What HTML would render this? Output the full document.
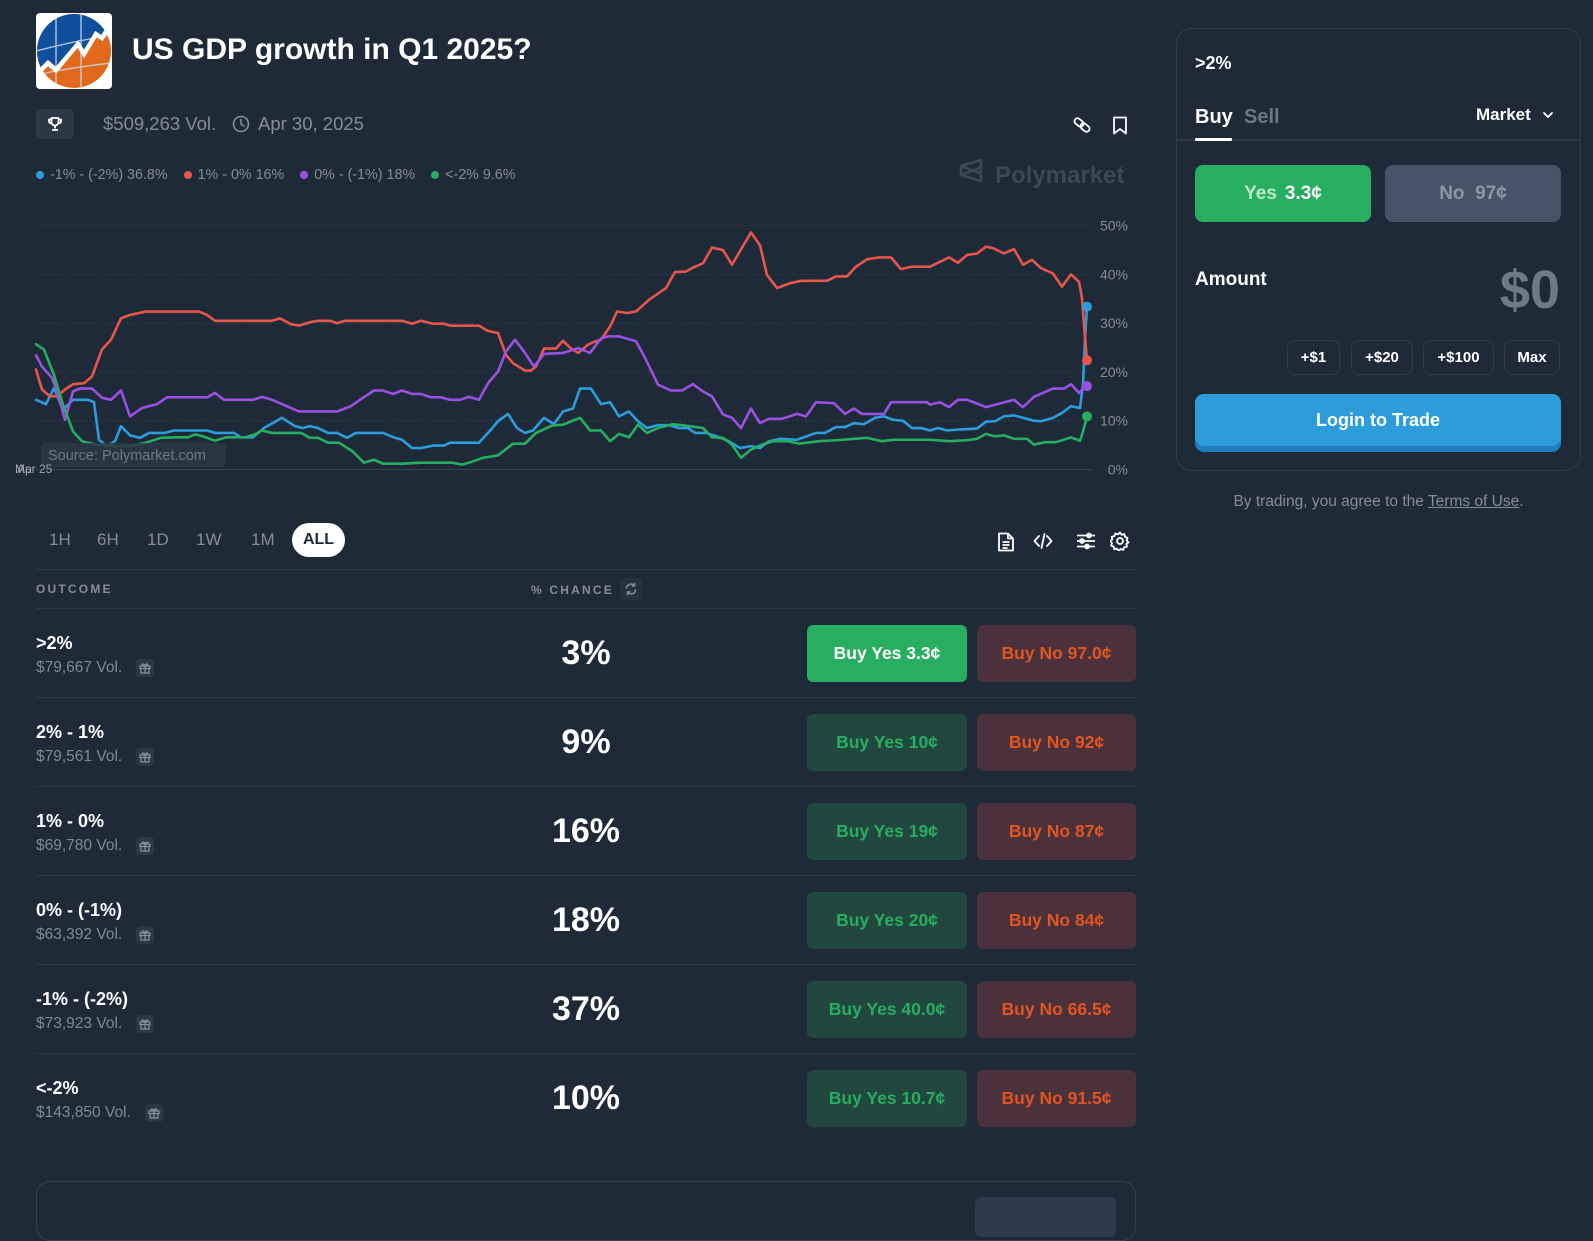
<!DOCTYPE html>
<html><head><meta charset="utf-8">
<style>
*{margin:0;padding:0;box-sizing:border-box}
html,body{width:1593px;height:1208px;overflow:hidden;background:#1e2a38;font-family:"Liberation Sans",Arial,sans-serif;color:#fff}
.a{position:absolute;white-space:nowrap}
.c{display:flex;align-items:center;justify-content:center}
.tb{font-size:17px;color:#858d99;height:24px;line-height:24px;top:528px}
.rt{font-weight:700;font-size:18px;line-height:22px;left:36px}
.rv{font-size:15.5px;color:#808a95;line-height:20px;left:36px;display:flex;align-items:center}
.gift{display:inline-flex;width:18px;height:18px;border-radius:4px;background:#2b3846;margin-left:14px;align-items:center;justify-content:center}
.pct{font-weight:700;font-size:34px;line-height:40px;left:486px;width:200px;text-align:center}
.by{left:807px;width:160px;height:57px;border-radius:6px;background:#21473f;color:#27ae60;font-weight:700;font-size:17.5px}
.bn{left:977px;width:159px;height:57px;border-radius:6px;background:#4a313c;color:#e2551e;font-weight:700;font-size:17.5px}
.hl{left:36px;width:1100px;height:1px;background:#2c3947}
.qb{top:340px;height:35px;border:1px solid #2f3c4b;border-radius:8px;font-weight:700;font-size:15px}
</style></head><body>

<!-- Logo -->
<svg class="a" style="left:36px;top:13px" width="76" height="76" viewBox="0 0 76 76">
<defs><clipPath id="lc"><circle cx="38" cy="38" r="37"/></clipPath><clipPath id="lr"><rect width="76" height="76" rx="4"/></clipPath></defs>
<rect width="76" height="76" rx="4" fill="#fff"/>
<g clip-path="url(#lr)"><g clip-path="url(#lc)">
<rect width="76" height="76" fill="#e2691c"/>
<polygon points="0,0 76,0 76,8 66,24 60,20 48,40 42,30 20,56 12,50 0,60" fill="#0f4f9c"/>
<g stroke="#c9d9ee" stroke-width="1.4" fill="none" opacity="0.85">
<line x1="20" y1="0" x2="20" y2="76"/><line x1="45" y1="0" x2="45" y2="76"/>
<path d="M0,38 Q38,28 76,22"/><path d="M0,62 Q38,54 76,50"/>
</g>
<polyline points="0,62 12,50 20,57 42,31 48,41 60,21 66,25 78,6" stroke="#fff" stroke-width="4.5" fill="none" stroke-linejoin="miter"/>
</g></g>
</svg>
<div class="a" style="left:132px;top:32px;font-size:30px;font-weight:700;line-height:36px">US GDP growth in Q1 2025?</div>

<!-- meta row -->
<div class="a c" style="left:36px;top:109px;width:38px;height:30px;border-radius:5px;background:#2b3846">
<svg width="16" height="16" viewBox="0 0 16 16" fill="none" stroke="#fff" stroke-width="1.8" stroke-linejoin="round"><path d="M4.5 2h7v4a3.5 3.5 0 0 1-7 0z"/><path d="M4.5 3.5H2v1.5a2.5 2.5 0 0 0 2.7 2.5M11.5 3.5H14v1.5a2.5 2.5 0 0 1-2.7 2.5"/><path d="M8 9.5v3M5 14h6"/></svg>
</div>
<div class="a" style="left:103px;top:113px;font-size:18.5px;line-height:22px;color:#858d99">$509,263 Vol.</div>
<svg class="a" style="left:232px;top:115px" width="18" height="18" viewBox="0 0 18 18" fill="none" stroke="#858d99" stroke-width="1.6"><circle cx="9" cy="9" r="7.5"/><path d="M9 4.5V9l3 2" stroke-linecap="round"/></svg>
<div class="a" style="left:258px;top:113px;font-size:18.5px;line-height:22px;color:#858d99">Apr 30, 2025</div>
<svg class="a" style="left:1072px;top:115px" width="20" height="20" viewBox="0 0 20 20" fill="none" stroke="#fff" stroke-width="1.8"><rect x="2" y="4.5" width="10" height="6" rx="3" transform="rotate(40 7 7.5)"/><rect x="8" y="9.5" width="10" height="6" rx="3" transform="rotate(40 13 12.5)"/></svg>
<svg class="a" style="left:1112px;top:116px" width="16" height="19" viewBox="0 0 16 19" fill="none" stroke="#fff" stroke-width="1.8" stroke-linejoin="round"><path d="M2 1.5h12v16l-6-4.5-6 4.5z"/></svg>

<!-- legend -->
<div class="a" style="left:36px;top:166px;font-size:14.3px;line-height:18px;color:#858d99;display:flex;align-items:center">
<span style="width:8px;height:8px;border-radius:50%;background:#2d9cdb;margin-right:6px"></span>-1% - (-2%) 36.8%
<span style="width:8px;height:8px;border-radius:50%;background:#e8564b;margin:0 6px 0 16px"></span>1% - 0% 16%
<span style="width:8px;height:8px;border-radius:50%;background:#9b51e0;margin:0 6px 0 16px"></span>0% - (-1%) 18%
<span style="width:8px;height:8px;border-radius:50%;background:#27ae60;margin:0 6px 0 16px"></span>&lt;-2% 9.6%
</div>

<!-- watermark -->
<svg class="a" style="left:959px;top:158px" width="24" height="25" viewBox="0 0 24 25" fill="none" stroke="#3c4856" stroke-width="2.6" stroke-linejoin="round"><path d="M22 2L2 8v9l20 6z M2 8l20 7.5 M2 17l20-7.5"/></svg>
<div class="a" style="left:995px;top:161px;font-size:24px;font-weight:700;line-height:30px;color:#3c4856">Polymarket</div>

<!-- chart -->
<svg class="a" style="left:0;top:0" width="1150" height="500" viewBox="0 0 1150 500">
<g stroke="#3a4552" stroke-width="1" stroke-dasharray="1.5 3">
<line x1="36" x2="1092" y1="225.6" y2="225.6"/>
<line x1="36" x2="1092" y1="274.4" y2="274.4"/>
<line x1="36" x2="1092" y1="323.2" y2="323.2"/>
<line x1="36" x2="1092" y1="371.9" y2="371.9"/>
<line x1="36" x2="1092" y1="420.7" y2="420.7"/>
</g>
<line x1="36" x2="1092" y1="469.5" y2="469.5" stroke="#3a4552" stroke-width="1"/>
<g font-family="Liberation Sans, Arial, sans-serif" font-size="14" fill="#858d99" text-anchor="end">
<text x="1128" y="230.6">50%</text>
<text x="1128" y="279.4">40%</text>
<text x="1128" y="328.2">30%</text>
<text x="1128" y="376.9">20%</text>
<text x="1128" y="425.7">10%</text>
<text x="1128" y="474.5">0%</text>
</g>
<g transform="translate(0,469.5) scale(1,-4.876)" fill="none" stroke-width="2.6" stroke-linejoin="round" stroke-linecap="round">
<polyline vector-effect="non-scaling-stroke" stroke="#2d9cdb" points="36,14.3 46,13.4 54,16.7 63,12.3 73,14.3 88,14.3 94,13.8 99,6.1 107,4.8 115,5.8 121,8.9 130,7 140,6.5 149,7.5 165,7.5 174,8 207,8 215,7.5 234,7.5 241,6.6 253,6.6 264,8.5 282,10.6 295,8.9 303,8.5 310,8.9 318,8.5 328,7.5 337,7.5 347,6.5 356,7.5 383,7.5 395,6.5 402,6.1 412,4.4 421,4.4 433,4.9 444,4.9 450,5.5 479,5.5 488,7.5 498,9.9 508,11.4 517,8.5 525,7.5 533,8 544,10.6 554,9.3 563,11.9 573,12.5 580,16.6 591,16.6 601,13.4 610,13.8 619,10.9 629,11.9 638,9.9 647,8.5 658,9.1 669,9.1 679,8.5 688,8.5 695,7.5 706,7.5 717,6.8 729,5.8 740,4.4 751,4.8 760,4.4 769,5.8 780,6.3 797,6.1 816,7.5 825,7.5 836,8.7 845,8.7 854,9.5 864,9.3 875,10.6 884,10.9 893,10.2 903,10 912,8.5 921,8.5 930,8 938,8.5 947,8 958,8.2 977,8.4 986,9.8 995,9.9 1004,10.9 1014,11.1 1023,10.6 1034,10 1041,9.9 1053,10.6 1062,11.6 1071,13 1080,12.6 1083,17.4 1085,26.9 1087,33.4"/>
<polyline vector-effect="non-scaling-stroke" stroke="#e8564b" points="36,20.5 42,16.4 50,15 57,15 65,16.4 73,17.5 84,17.7 92,19.1 102,24.6 111,26.6 121,31 130,31.7 146,32.4 199,32.4 207,31.7 215,30.5 272,30.5 280,31 291,29.8 299,29.5 310,30.2 318,30.5 330,30.5 337,30 345,30.5 402,30.5 412,29.9 421,30.5 433,29.9 444,29.9 450,29.5 479,29.5 488,28.4 498,28 506,23.5 513,21.8 525,20.3 531,20.3 536,21.1 544,24.8 556,24.8 563,26.4 570,25 578,23.9 588,25.6 593,26.1 601,26.6 610,29.3 617,32.4 627,32.1 636,32.4 649,34.8 666,37.2 675,40.5 686,40.6 693,41.4 703,42.3 712,45.5 723,45 732,42 751,48.6 760,46 767,39.9 777,37.2 790,38.2 801,38.7 827,38.7 836,39.6 847,39.6 856,41.6 867,43.1 879,43.5 891,43.5 901,41.1 912,41.6 930,41.6 949,43.5 958,42.4 967,44 977,44.3 986,45.7 993,45.4 1004,44.3 1014,45.2 1023,42 1032,43 1041,41.3 1053,40.2 1062,37.5 1071,40 1079,38.5 1082,35.1 1084,29.7 1087,22.4"/>
<polyline vector-effect="non-scaling-stroke" stroke="#9b51e0" points="36,23.4 42,21.1 52,18.8 57,16 65,10.2 73,16 80,16.6 92,16.6 102,14.7 111,14.3 121,16.2 130,10.9 142,12.6 157,13.4 167,14.8 207,14.8 215,15.7 224,14.3 253,14.3 262,14.9 272,14.3 299,11.9 337,11.9 351,13 360,14.3 374,16.2 383,16.2 393,15.5 402,16.2 412,15.5 421,15.5 431,14.8 441,14.8 450,14.3 460,14.3 469,14.9 479,14.3 488,17.7 498,20.1 506,24.2 515,26.6 525,23.9 534,21.1 544,23.7 563,23.9 578,24.9 590,23.9 601,26.9 608,27.3 619,27.3 636,26.3 645,22.9 658,17.4 671,16.2 682,16.2 693,17.5 703,16 712,15 723,11.3 732,10.6 741,8.5 751,12.5 760,9.5 769,10.4 782,10.4 797,11.4 806,10.9 816,13.8 834,13.6 845,11.4 854,12.5 862,11.4 884,11.4 891,13.8 927,13.8 930,13.3 940,13.8 949,12.8 958,14.3 967,14.3 986,12.8 1014,14.3 1023,12.8 1034,14.9 1053,16.6 1064,16.6 1071,17.5 1079,15.7 1082,16.4 1087,17.1"/>
<polyline vector-effect="non-scaling-stroke" stroke="#27ae60" points="36,25.7 44,24.6 54,19.4 63,13.3 73,7.8 82,5.8 96,5.1 115,4.8 130,4.8 146,5.5 161,6.5 176,6.6 188,6.6 195,7.2 203,6.8 215,5.9 226,6.6 245,6.6 255,7.2 262,8 272,7.5 301,7.5 310,6.5 318,6.5 328,5.5 339,5.5 352,3.8 364,1.4 374,2 383,1.2 402,1.2 421,1.4 452,1.4 462,1 469,1.4 483,2.4 498,2.9 513,5.3 525,5.3 536,7.5 552,9 563,9.2 580,10.6 590,8 601,8 610,5.8 619,7.3 629,6.6 638,9.2 647,7.5 658,8.5 673,9.3 682,9.1 703,8.5 712,6.6 723,6.5 732,5.1 741,2.4 751,4.1 762,5.1 773,5.8 788,5.8 799,5.3 819,5.8 836,6 867,6.5 882,5.8 893,6.1 930,6.1 949,5.8 967,6 977,6.3 986,7.3 995,6.8 1004,7 1014,6.3 1027,6.3 1034,5.1 1045,5.6 1056,5.6 1071,6.6 1080,5.9 1083,7.8 1087,10.9"/>
</g>
<circle cx="1087" cy="306.6" r="5" fill="#2d9cdb"/>
<circle cx="1087" cy="360.3" r="5" fill="#e8564b"/>
<circle cx="1087" cy="386.1" r="5" fill="#9b51e0"/>
<circle cx="1087" cy="416.4" r="5" fill="#27ae60"/>
<rect x="41" y="443" width="185" height="24" rx="4" fill="#2a3745" fill-opacity="0.85"/>
<text x="48" y="460" font-family="Liberation Sans, Arial, sans-serif" font-size="14.5" fill="#6c7886">Source: Polymarket.com</text>
<text x="15" y="473" font-family="Liberation Sans, Arial, sans-serif" font-size="12" fill="#9aa3ad">Mar</text>
<text x="17" y="473" font-family="Liberation Sans, Arial, sans-serif" font-size="12" fill="#9aa3ad">Apr 25</text>
</svg>

<!-- time buttons -->
<div class="a tb" style="left:49px">1H</div>
<div class="a tb" style="left:97px">6H</div>
<div class="a tb" style="left:147px">1D</div>
<div class="a tb" style="left:196px">1W</div>
<div class="a tb" style="left:251px">1M</div>
<div class="a c" style="left:292px;top:523px;width:53px;height:34px;border-radius:17px;background:#fff;color:#1e2a38;font-size:16px;font-weight:700">ALL</div>

<!-- toolbar icons -->
<svg class="a" style="left:997px;top:532px" width="18" height="20" viewBox="0 0 18 20" fill="none" stroke="#fff" stroke-width="1.8" stroke-linejoin="round"><path d="M2 1.5h9l5 5v12H2z"/><path d="M11 1.5v5h5M5.5 10h7M5.5 13h7M5.5 16h5"/></svg>
<svg class="a" style="left:1033px;top:532px" width="20" height="18" viewBox="0 0 20 18" fill="none" stroke="#fff" stroke-width="1.8" stroke-linecap="round" stroke-linejoin="round"><path d="M6 4L1.5 9 6 14M14 4l4.5 5-4.5 5M11.5 2l-3 14"/></svg>
<svg class="a" style="left:1076px;top:532px" width="20" height="18" viewBox="0 0 20 18" fill="none" stroke="#fff" stroke-width="1.8"><path d="M1 3.5h18M1 9h18M1 14.5h18"/><g fill="#fff"><circle cx="13" cy="3.5" r="2"/><circle cx="6" cy="9" r="2"/><circle cx="11" cy="14.5" r="2"/></g></svg>
<svg class="a" style="left:1110px;top:531px" width="20" height="20" viewBox="0 0 20 20" fill="none" stroke="#fff" stroke-width="1.8"><circle cx="10" cy="10" r="3"/><path d="M10 1.5l1.6 2.2 2.7-.6.6 2.7 2.6 1-.9 2.6 1.9 2-2.2 1.6.6 2.7-2.7.6-1 2.6-2.6-.9-2 1.9-1.6-2.2-2.7.6-.6-2.7-2.6-1 .9-2.6-1.9-2 2.2-1.6-.6-2.7 2.7-.6 1-2.6 2.6.9z" stroke-linejoin="round"/></svg>

<!-- table header -->
<div class="a hl" style="top:569px"></div>
<div class="a" style="left:36px;top:581px;font-size:12px;line-height:16px;letter-spacing:2.2px;color:#858d99;font-weight:700">OUTCOME</div>
<div class="a" style="left:531px;top:582px;font-size:12px;line-height:16px;letter-spacing:2.2px;color:#858d99;font-weight:700">% CHANCE</div>
<div class="a c" style="left:620px;top:578px;width:22px;height:22px;border-radius:5px;background:#25323f">
<svg width="14" height="14" viewBox="0 0 14 14" fill="none" stroke="#858d99" stroke-width="1.5" stroke-linecap="round"><path d="M2.5 6a4.5 4.5 0 0 1 8-2.2M11.5 8a4.5 4.5 0 0 1-8 2.2M10.5 1.5v2.5H8M3.5 12.5V10H6"/></svg>
</div>
<div class="a hl" style="top:608px"></div>

<!-- rows -->
<div class="a rt" style="top:632px">&gt;2%</div>
<div class="a rv" style="top:658px">$79,667 Vol.<span class="gift"><svg width="12" height="12" viewBox="0 0 12 12" fill="none" stroke="#8a939e" stroke-width="1.2"><rect x="1" y="4" width="10" height="2.5"/><path d="M2 6.5v4.5h8V6.5M6 4v7M6 4C5 1.5 3 1.5 3 3s3 1 3 1 3 .5 3-1-2-1.5-3 1"/></svg></span></div>
<div class="a pct" style="top:633px">3%</div>
<div class="a c by" style="top:625px;background:#27ae60;color:#fff">Buy Yes 3.3¢</div>
<div class="a c bn" style="top:625px">Buy No 97.0¢</div>
<div class="a hl" style="top:697px"></div>

<div class="a rt" style="top:721px">2% - 1%</div>
<div class="a rv" style="top:747px">$79,561 Vol.<span class="gift"><svg width="12" height="12" viewBox="0 0 12 12" fill="none" stroke="#8a939e" stroke-width="1.2"><rect x="1" y="4" width="10" height="2.5"/><path d="M2 6.5v4.5h8V6.5M6 4v7M6 4C5 1.5 3 1.5 3 3s3 1 3 1 3 .5 3-1-2-1.5-3 1"/></svg></span></div>
<div class="a pct" style="top:722px">9%</div>
<div class="a c by" style="top:714px">Buy Yes 10¢</div>
<div class="a c bn" style="top:714px">Buy No 92¢</div>
<div class="a hl" style="top:786px"></div>

<div class="a rt" style="top:810px">1% - 0%</div>
<div class="a rv" style="top:836px">$69,780 Vol.<span class="gift"><svg width="12" height="12" viewBox="0 0 12 12" fill="none" stroke="#8a939e" stroke-width="1.2"><rect x="1" y="4" width="10" height="2.5"/><path d="M2 6.5v4.5h8V6.5M6 4v7M6 4C5 1.5 3 1.5 3 3s3 1 3 1 3 .5 3-1-2-1.5-3 1"/></svg></span></div>
<div class="a pct" style="top:811px">16%</div>
<div class="a c by" style="top:803px">Buy Yes 19¢</div>
<div class="a c bn" style="top:803px">Buy No 87¢</div>
<div class="a hl" style="top:875px"></div>

<div class="a rt" style="top:899px">0% - (-1%)</div>
<div class="a rv" style="top:925px">$63,392 Vol.<span class="gift"><svg width="12" height="12" viewBox="0 0 12 12" fill="none" stroke="#8a939e" stroke-width="1.2"><rect x="1" y="4" width="10" height="2.5"/><path d="M2 6.5v4.5h8V6.5M6 4v7M6 4C5 1.5 3 1.5 3 3s3 1 3 1 3 .5 3-1-2-1.5-3 1"/></svg></span></div>
<div class="a pct" style="top:900px">18%</div>
<div class="a c by" style="top:892px">Buy Yes 20¢</div>
<div class="a c bn" style="top:892px">Buy No 84¢</div>
<div class="a hl" style="top:964px"></div>

<div class="a rt" style="top:988px">-1% - (-2%)</div>
<div class="a rv" style="top:1014px">$73,923 Vol.<span class="gift"><svg width="12" height="12" viewBox="0 0 12 12" fill="none" stroke="#8a939e" stroke-width="1.2"><rect x="1" y="4" width="10" height="2.5"/><path d="M2 6.5v4.5h8V6.5M6 4v7M6 4C5 1.5 3 1.5 3 3s3 1 3 1 3 .5 3-1-2-1.5-3 1"/></svg></span></div>
<div class="a pct" style="top:989px">37%</div>
<div class="a c by" style="top:981px">Buy Yes 40.0¢</div>
<div class="a c bn" style="top:981px">Buy No 66.5¢</div>
<div class="a hl" style="top:1053px"></div>

<div class="a rt" style="top:1077px">&lt;-2%</div>
<div class="a rv" style="top:1103px">$143,850 Vol.<span class="gift"><svg width="12" height="12" viewBox="0 0 12 12" fill="none" stroke="#8a939e" stroke-width="1.2"><rect x="1" y="4" width="10" height="2.5"/><path d="M2 6.5v4.5h8V6.5M6 4v7M6 4C5 1.5 3 1.5 3 3s3 1 3 1 3 .5 3-1-2-1.5-3 1"/></svg></span></div>
<div class="a pct" style="top:1078px">10%</div>
<div class="a c by" style="top:1070px">Buy Yes 10.7¢</div>
<div class="a c bn" style="top:1070px">Buy No 91.5¢</div>

<!-- bottom card -->
<div class="a" style="left:36px;top:1181px;width:1100px;height:60px;border:1px solid #34414f;border-radius:14px"></div>
<div class="a" style="left:975px;top:1197px;width:141px;height:40px;border-radius:6px;background:#2c3a49"></div>

<!-- right panel -->
<div class="a" style="left:1176px;top:28px;width:405px;height:443px;border:1px solid #2f3c4b;border-radius:16px"></div>
<div class="a" style="left:1195px;top:52px;font-size:18px;font-weight:700;line-height:22px">&gt;2%</div>
<div class="a" style="left:1195px;top:105px;font-size:20px;font-weight:700;line-height:24px">Buy</div>
<div class="a" style="left:1244px;top:105px;font-size:20px;font-weight:700;line-height:24px;color:#6c7785">Sell</div>
<div class="a" style="left:1177px;top:139px;width:403px;height:2px;background:#2c3947"></div>
<div class="a" style="left:1195px;top:138px;width:37px;height:3px;background:#fff;border-radius:1px"></div>
<div class="a" style="left:1476px;top:104px;font-size:17px;font-weight:700;line-height:22px">Market</div>
<svg class="a" style="left:1542px;top:110px" width="12" height="10" viewBox="0 0 12 10" fill="none" stroke="#fff" stroke-width="1.8" stroke-linecap="round" stroke-linejoin="round"><path d="M2 3l4 4 4-4"/></svg>
<div class="a c" style="left:1195px;top:165px;width:176px;height:57px;border-radius:8px;background:#27ae60;font-size:19px;font-weight:700"><span style="color:#b9e8cb;margin-right:8px">Yes</span>3.3¢</div>
<div class="a c" style="left:1385px;top:165px;width:176px;height:57px;border-radius:8px;background:#455467;font-size:19px;font-weight:700;color:#8d98a5">No&nbsp;&nbsp;97¢</div>
<div class="a" style="left:1195px;top:268px;font-size:19px;font-weight:700;line-height:24px">Amount</div>
<div class="a" style="left:1400px;top:258px;width:160px;text-align:right;font-size:54px;font-weight:700;line-height:64px;color:#6f7a87">$0</div>
<div class="a c qb" style="left:1287px;width:53px">+$1</div>
<div class="a c qb" style="left:1351px;width:62px">+$20</div>
<div class="a c qb" style="left:1423px;width:71px">+$100</div>
<div class="a c qb" style="left:1504px;width:56px">Max</div>
<div class="a" style="left:1195px;top:394px;width:366px;height:58px;border-radius:9px;background:#1f7dbb"></div>
<div class="a c" style="left:1195px;top:394px;width:366px;height:52px;border-radius:9px;background:#2d9cdb;font-size:18px;font-weight:700">Login to Trade</div>
<div class="a" style="left:1176px;top:492px;width:405px;text-align:center;font-size:15.5px;line-height:20px;color:#858d99">By trading, you agree to the <span style="text-decoration:underline">Terms of Use</span>.</div>

</body></html>
